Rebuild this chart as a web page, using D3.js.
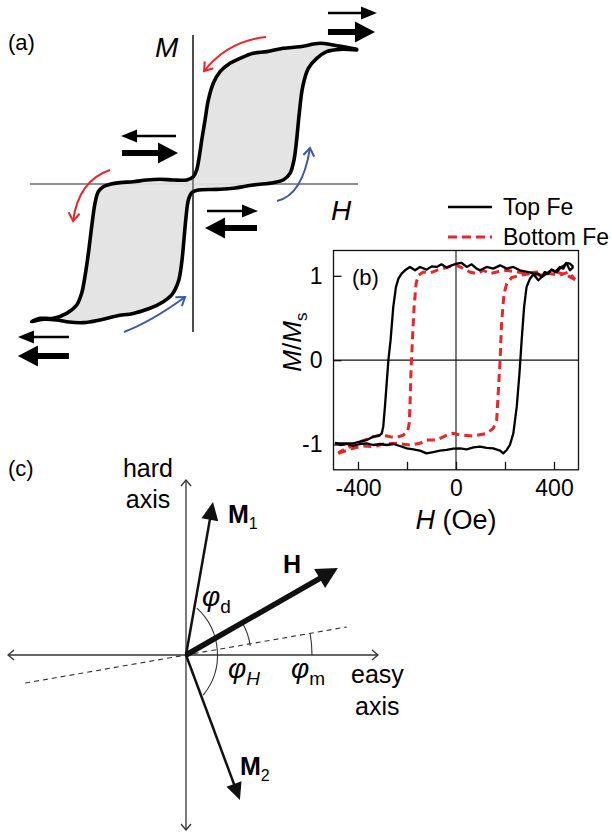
<!DOCTYPE html>
<html>
<head>
<meta charset="utf-8">
<script src="https://cdn.jsdelivr.net/npm/d3@7"></script>
<style>
  body { margin: 0; background: #fff; }
  svg { display: block; font-family: Arial, "Liberation Sans", sans-serif; }
</style>
</head>
<body>
<svg id="fig" width="612" height="834"></svg>
<script>
// ---- panel (a): schematic double loop, normalised [H, M]
const loopDown = [
  [0.992, 1.001], [0.850, 1.033], [0.770, 1.046], [0.648, 1.021], [0.547, 1.009],
  [0.447, 0.984], [0.365, 0.972], [0.285, 0.934], [0.224, 0.897], [0.164, 0.835],
  [0.123, 0.749], [0.093, 0.625], [0.073, 0.476], [0.053, 0.327], [0.038, 0.203],
  [0.022, 0.104], [0.002, 0.054], [-0.038, 0.030], [-0.119, 0.030], [-0.200, 0.035],
  [-0.281, 0.030], [-0.362, 0.017], [-0.442, 0.010], [-0.503, -0.002], [-0.544, -0.020],
  [-0.574, -0.057], [-0.594, -0.144], [-0.614, -0.317], [-0.634, -0.515], [-0.655, -0.689],
  [-0.675, -0.813], [-0.705, -0.900], [-0.766, -0.962], [-0.847, -0.999], [-0.927, -0.999],
  [-0.978, -1.024],
];
const loopUp = [
  [-0.978, -1.024], [-0.907, -1.006], [-0.826, -1.011], [-0.766, -1.024], [-0.665, -1.031],
  [-0.564, -1.011], [-0.463, -0.981], [-0.362, -0.962], [-0.261, -0.924], [-0.180, -0.875],
  [-0.129, -0.825], [-0.089, -0.726], [-0.069, -0.590], [-0.055, -0.416], [-0.042, -0.243],
  [-0.028, -0.119], [-0.008, -0.065], [0.032, -0.045], [0.144, -0.040], [0.244, -0.032],
  [0.365, -0.007], [0.487, 0.010], [0.547, 0.030], [0.588, 0.079], [0.612, 0.178],
  [0.628, 0.327], [0.644, 0.525], [0.665, 0.724], [0.699, 0.860], [0.750, 0.934],
  [0.810, 0.984], [0.891, 1.001], [0.992, 0.996],
];
// spin pictograms: [H tail, H tip, M, thick]
const spinArrows = [
  [0.818, 1.115, 1.271, false], [0.818, 1.103, 1.130, true],
  [-0.103, -0.436, 0.357, false], [-0.430, -0.091, 0.230, true],
  [0.085, 0.394, -0.201, false], [0.388, 0.073, -0.327, true],
  [-0.752, -1.061, -1.138, false], [-0.752, -1.061, -1.279, true],
];
// sweep direction arrows: start, control, end
const sweepArrows = [
  { pts: [[0.442, 1.093], [0.212, 1.063], [0.067, 0.840]], color: '#e8262b' },
  { pts: [[-0.503, 0.104], [-0.694, 0.026], [-0.727, -0.275]], color: '#e8262b' },
  { pts: [[0.509, -0.126], [0.664, -0.086], [0.709, 0.268]], color: '#3b5ba5' },
  { pts: [[-0.418, -1.100], [-0.252, -1.022], [-0.048, -0.840]], color: '#3b5ba5' },
];

// ---- panel (b): measured loops, H in Oe, M/Ms
const topFeDown = [
  [479, 1.105], [465, 1.144], [449, 1.152], [438, 1.085], [424, 1.105], [404, 1.045],
  [390, 1.073], [377, 1.026], [363, 1.045], [350, 0.986], [336, 1.026], [316, 1.026],
  [295, 1.045], [261, 1.065], [234, 1.105], [207, 1.085], [180, 1.124], [152, 1.085],
  [125, 1.105], [98, 1.065], [84, 1.085], [64, 1.136], [44, 1.105], [23, 1.152],
  [3, 1.144], [-18, 1.124], [-38, 1.097], [-59, 1.136], [-79, 1.105], [-99, 1.112],
  [-120, 1.073], [-147, 1.105], [-167, 1.065], [-188, 1.105], [-208, 1.065], [-222, 1.026],
  [-235, 0.966], [-245, 0.868], [-256, 0.631], [-267, 0.237], [-276, 0], [-283, -0.276],
  [-290, -0.552], [-297, -0.789], [-303, -0.868], [-310, -0.888], [-337, -0.907],
  [-365, -0.947], [-392, -0.966], [-419, -0.986], [-460, -0.986], [-494, -0.986],
];
const topFeUp = [
  [-494, -0.978], [-473, -1.006], [-446, -0.994], [-419, -1.018], [-392, -0.994],
  [-365, -0.986], [-337, -1.006], [-310, -0.994], [-283, -1.006], [-256, -0.994],
  [-229, -1.018], [-201, -1.045], [-174, -1.057], [-147, -1.073], [-120, -1.105],
  [-93, -1.089], [-65, -1.073], [-38, -1.065], [-11, -1.049], [16, -1.045], [44, -1.057],
  [71, -1.034], [98, -1.026], [125, -1.041], [152, -1.045], [180, -1.073], [193, -1.105],
  [207, -1.065], [220, -1.006], [234, -0.868], [248, -0.552], [259, -0.158], [268, 0.237],
  [278, 0.631], [288, 0.868], [302, 0.966], [316, 1.018], [336, 0.947], [350, 0.986],
  [370, 1.026], [390, 1.073], [411, 1.045], [431, 1.105], [452, 1.144], [465, 1.065],
  [479, 1.105],
];
const bottomFeDown = [
  [486, 0.955], [452, 1.006], [411, 1.045], [370, 1.026], [329, 1.045], [288, 1.034],
  [248, 1.045], [207, 1.065], [166, 1.045], [139, 1.026], [112, 1.065], [84, 1.026],
  [57, 1.045], [30, 1.085], [3, 1.124], [-24, 1.112], [-52, 1.085], [-79, 1.065],
  [-106, 1.034], [-133, 1.045], [-154, 1.006], [-163, 0.907], [-171, 0.631], [-178, 0.237],
  [-184, -0.158], [-188, -0.552], [-191, -0.75], [-198, -0.85], [-215, -0.888],
  [-242, -0.915], [-269, -0.907], [-297, -0.888], [-337, -0.907], [-365, -0.939],
  [-392, -0.966], [-419, -1.006], [-446, -1.045], [-473, -1.085], [-480, -1.105],
];
const bottomFeUp = [
  [-480, -1.105], [-460, -1.085], [-419, -1.045], [-378, -1.018], [-337, -1.026],
  [-297, -0.994], [-242, -0.986], [-188, -1.006], [-147, -0.986], [-120, -0.947],
  [-79, -0.947], [-38, -0.888], [-11, -0.868], [16, -0.888], [71, -0.899], [125, -0.868],
  [152, -0.809], [166, -0.710], [173, -0.355], [180, 0], [186, 0.434], [196, 0.789],
  [207, 0.907], [227, 0.978], [261, 1.006], [302, 1.026], [343, 1.006], [384, 1.026],
  [424, 1.006], [459, 1.045], [486, 0.955],
];
const xTicksB = [-400, -200, 0, 200, 400];
const xLabelsB = [-400, 0, 400];
const yTicksB = [-1, 0, 1];
const legendB = [
  { label: 'Top Fe', color: '#000', dash: null },
  { label: 'Bottom Fe', color: '#e8262b', dash: '9,5' },
];

// ---- panel (c): vectors, angle in degrees from easy axis, length relative
const vectorsC = [
  { name: 'M', sub: '1', angle: 80, len: 0.888, width: 2.5, head: [18, 8.5] },
  { name: 'H', sub: '', angle: 29.8, len: 1.0, width: 5.5, head: [21, 11] },
  { name: 'M', sub: '2', angle: -69.6, len: 0.884, width: 2.5, head: [17, 8] },
];
const mAxisAngle = 9.9;
const anglesC = [
  { sym: 'd', cx: -0.183, r: 0.363, a0: -39.2, a1: 47.5 },
  { sym: 'H', cx: 0, r: 0.371, a0: 8, a1: 29.8 },
  { sym: 'm', cx: 0, r: 0.72, a0: 0, a1: 9.9 },
];

const svg = d3.select('#fig');

// helpers for arrows
function filledArrow(g, x1, y1, x2, y2, width, len, half, color) {
  const d = Math.hypot(x2 - x1, y2 - y1);
  const ux = (x2 - x1) / d;
  const uy = (y2 - y1) / d;
  g.append('line')
    .attr('x1', x1).attr('y1', y1)
    .attr('x2', x2 - ux * len * 0.7).attr('y2', y2 - uy * len * 0.7)
    .attr('stroke', color).attr('stroke-width', width);
  const bx = x2 - ux * len;
  const by = y2 - uy * len;
  g.append('path')
    .attr('d', `M${x2},${y2}L${bx - uy * half},${by + ux * half}L${bx + uy * half},${by - ux * half}Z`)
    .attr('fill', color);
}
function openHead(g, x2, y2, ux, uy, len, half, color, width) {
  const bx = x2 - ux * len;
  const by = y2 - uy * len;
  g.append('path')
    .attr('d', `M${bx - uy * half},${by + ux * half}L${x2},${y2}L${bx + uy * half},${by - ux * half}`)
    .attr('fill', 'none').attr('stroke', color).attr('stroke-width', width)
    .attr('stroke-linejoin', 'miter');
}

// ================= panel (a)
const xA = d3.scaleLinear().domain([-1, 1]).range([28, 358]);
const yA = d3.scaleLinear().domain([-1, 1]).range([318.5, 49.5]);
const gA = svg.append('g');

gA.append('line').attr('x1', 30).attr('x2', 358).attr('y1', yA(0)).attr('y2', yA(0))
  .attr('stroke', '#222').attr('stroke-width', 1.2);
gA.append('line').attr('x1', xA(0)).attr('x2', xA(0)).attr('y1', 35).attr('y2', 332)
  .attr('stroke', '#222').attr('stroke-width', 1.2);

const loopLine = d3.line().x((d) => xA(d[0])).y((d) => yA(d[1])).curve(d3.curveCatmullRom);
gA.append('path')
  .attr('d', loopLine(loopDown.concat(loopUp.slice(1))) + 'Z')
  .attr('fill', '#e3e3e3')
  .attr('fill-opacity', 0.95)
  .attr('stroke', '#000')
  .attr('stroke-width', 3.6)
  .attr('stroke-linejoin', 'round');
// re-draw axis over the grey fill
gA.append('line').attr('x1', xA(0)).attr('x2', xA(0)).attr('y1', 35).attr('y2', 332)
  .attr('stroke', '#222').attr('stroke-width', 1.2).attr('opacity', 0.8);

spinArrows.forEach(([h0, h1, m, thick]) => {
  if (thick) filledArrow(gA, xA(h0), yA(m), xA(h1), yA(m), 6, 20, 10.5, '#000');
  else filledArrow(gA, xA(h0), yA(m), xA(h1), yA(m), 2.4, 16, 6.5, '#000');
});

sweepArrows.forEach(({ pts, color }) => {
  const [p0, c, p1] = pts.map((p) => [xA(p[0]), yA(p[1])]);
  const path = d3.path();
  path.moveTo(p0[0], p0[1]);
  path.quadraticCurveTo(c[0], c[1], p1[0], p1[1]);
  gA.append('path').attr('d', path.toString())
    .attr('fill', 'none').attr('stroke', color).attr('stroke-width', 2);
  const d = Math.hypot(p1[0] - c[0], p1[1] - c[1]);
  openHead(gA, p1[0], p1[1], (p1[0] - c[0]) / d, (p1[1] - c[1]) / d, 8, 5.5, color, 2);
});

gA.append('text').attr('x', 8).attr('y', 50).style('font-size', '22px').text('(a)');
gA.append('text').attr('x', 155).attr('y', 57).style('font-size', '28px')
  .style('font-style', 'italic').text('M');
gA.append('text').attr('x', 331).attr('y', 220).style('font-size', '28px')
  .style('font-style', 'italic').text('H');

// ================= panel (b)
const xB = d3.scaleLinear().domain([-500, 500]).range([333.5, 578.5]);
const yB = d3.scaleLinear().domain([-1.3, 1.3]).range([469.8, 250.5]);
const gB = svg.append('g');

gB.append('line').attr('x1', xB(-500)).attr('x2', xB(500)).attr('y1', yB(0)).attr('y2', yB(0))
  .attr('stroke', '#111').attr('stroke-width', 1.1);
gB.append('line').attr('x1', xB(0)).attr('x2', xB(0)).attr('y1', yB(1.3)).attr('y2', yB(-1.3))
  .attr('stroke', '#111').attr('stroke-width', 1.1);

const lineB = d3.line().x((d) => xB(d[0])).y((d) => yB(d[1]));
[bottomFeDown, bottomFeUp].forEach((s) => {
  gB.append('path').attr('d', lineB(s)).attr('fill', 'none')
    .attr('stroke', '#e8262b').attr('stroke-width', 3).attr('stroke-dasharray', '8,5');
});
[topFeDown, topFeUp].forEach((s) => {
  gB.append('path').attr('d', lineB(s)).attr('fill', 'none')
    .attr('stroke', '#000').attr('stroke-width', 2.3).attr('stroke-linejoin', 'round');
});

gB.append('rect').attr('x', xB(-500)).attr('y', yB(1.3))
  .attr('width', xB(500) - xB(-500)).attr('height', yB(-1.3) - yB(1.3))
  .attr('fill', 'none').attr('stroke', '#111').attr('stroke-width', 1.3);

const axB = gB.append('g').attr('transform', `translate(0,${yB(-1.3)})`)
  .call(d3.axisBottom(xB).tickValues(xTicksB).tickSize(-8).tickPadding(10)
    .tickFormat((d) => (xLabelsB.includes(d) ? String(d) : '')));
const ayB = gB.append('g').attr('transform', `translate(${xB(-500)},0)`)
  .call(d3.axisLeft(yB).tickValues(yTicksB).tickSize(-8).tickPadding(11)
    .tickFormat((d) => String(d)));
[axB, ayB].forEach((ax) => {
  ax.select('.domain').remove();
  ax.selectAll('line').attr('stroke', '#111').attr('stroke-width', 1.3);
  ax.selectAll('text').attr('fill', '#000').style('font-size', '23px')
    .style('font-family', 'Arial, "Liberation Sans", sans-serif');
});

gB.append('text').attr('x', 352).attr('y', 285).style('font-size', '22px').text('(b)');

const xTitle = gB.append('text').attr('x', xB(0)).attr('y', 529)
  .attr('text-anchor', 'middle').style('font-size', '27px');
xTitle.append('tspan').style('font-style', 'italic').text('H');
xTitle.append('tspan').text(' (Oe)');

const yTitle = gB.append('text')
  .attr('transform', `translate(301,${yB(0) - 18}) rotate(-90)`)
  .attr('text-anchor', 'middle').style('font-size', '26px');
yTitle.append('tspan').style('font-style', 'italic').text('M');
yTitle.append('tspan').text('/');
yTitle.append('tspan').style('font-style', 'italic').text('M');
yTitle.append('tspan').attr('dy', 6).style('font-size', '17px').text('s');

legendB.forEach((d, i) => {
  const y = 207 + i * 30;
  gB.append('line').attr('x1', 448).attr('x2', 492).attr('y1', y).attr('y2', y)
    .attr('stroke', d.color).attr('stroke-width', d.dash ? 3 : 2.3)
    .attr('stroke-dasharray', d.dash);
  gB.append('text').attr('x', 503).attr('y', y + 8).style('font-size', '23px').text(d.label);
});

// ================= panel (c)
const O = [186, 655];
const rC = d3.scaleLinear().domain([0, 1]).range([0, 175]);
const gC = svg.append('g').attr('transform', `translate(${O[0]},${O[1]})`);
const pol = (a, r) => [rC(r) * Math.cos((a * Math.PI) / 180), -rC(r) * Math.sin((a * Math.PI) / 180)];

// easy and hard axes with open heads at both ends
const axesC = [[180, 1.017], [0, 1.097], [90, 1.0], [-90, 1.0]];
gC.append('line').attr('x1', pol(180, 1.017)[0]).attr('x2', pol(0, 1.097)[0])
  .attr('y1', 0).attr('y2', 0).attr('stroke', '#333').attr('stroke-width', 1.3);
gC.append('line').attr('y1', pol(90, 1)[1]).attr('y2', pol(-90, 1)[1])
  .attr('x1', 0).attr('x2', 0).attr('stroke', '#333').attr('stroke-width', 1.3);
axesC.forEach(([a, r]) => {
  const [x, y] = pol(a, r);
  const ux = Math.cos((a * Math.PI) / 180);
  const uy = -Math.sin((a * Math.PI) / 180);
  openHead(gC, x, y, ux, uy, 6, 5, '#333', 1.3);
});

// magnetisation axis (dashed)
const [dx1, dy1] = pol(mAxisAngle, 0.933);
const [dx0, dy0] = pol(mAxisAngle + 180, 0.933);
gC.append('line').attr('x1', dx0).attr('y1', dy0).attr('x2', dx1).attr('y2', dy1)
  .attr('stroke', '#333').attr('stroke-width', 1.1).attr('stroke-dasharray', '5,4');

// angle arcs
anglesC.forEach((d) => {
  const cx = rC(d.cx);
  const r = rC(d.r);
  const p = d3.path();
  p.arc(cx, 0, r, (-d.a1 * Math.PI) / 180, (-d.a0 * Math.PI) / 180);
  gC.append('path').attr('d', p.toString()).attr('fill', 'none')
    .attr('stroke', '#333').attr('stroke-width', 1.1);
});

vectorsC.forEach((v) => {
  const [x, y] = pol(v.angle, v.len);
  filledArrow(gC, 0, 0, x, y, v.width, v.head[0], v.head[1], '#111');
});

// labels
const lab = svg.append('g');
lab.append('text').attr('x', 8).attr('y', 476).style('font-size', '22px').text('(c)');
lab.append('text').attr('x', 148).attr('y', 477).attr('text-anchor', 'middle')
  .style('font-size', '25px').text('hard');
lab.append('text').attr('x', 148).attr('y', 508).attr('text-anchor', 'middle')
  .style('font-size', '25px').text('axis');
lab.append('text').attr('x', 351).attr('y', 683).style('font-size', '25px').text('easy');
lab.append('text').attr('x', 355).attr('y', 715).style('font-size', '25px').text('axis');

const vecLabels = [
  { x: 228, y: 523, v: vectorsC[0] },
  { x: 283, y: 573, v: vectorsC[1] },
  { x: 240, y: 775, v: vectorsC[2] },
];
vecLabels.forEach(({ x, y, v }) => {
  const t = lab.append('text').attr('x', x).attr('y', y).style('font-size', '25px');
  t.append('tspan').style('font-weight', 'bold').text(v.name);
  if (v.sub) t.append('tspan').attr('dy', 6).style('font-size', '16px').text(v.sub);
});

const phiLabels = [
  { x: 202, y: 606, sub: anglesC[0].sym, italic: false },
  { x: 228, y: 678, sub: anglesC[1].sym, italic: true },
  { x: 291, y: 678, sub: anglesC[2].sym, italic: false },
];
phiLabels.forEach((d) => {
  const t = lab.append('text').attr('x', d.x).attr('y', d.y).style('font-size', '28px');
  t.append('tspan').style('font-style', 'italic').text('φ');
  t.append('tspan').attr('dy', 7).style('font-size', '19px')
    .style('font-style', d.italic ? 'italic' : 'normal').text(d.sub);
});
</script>
</body>
</html>
